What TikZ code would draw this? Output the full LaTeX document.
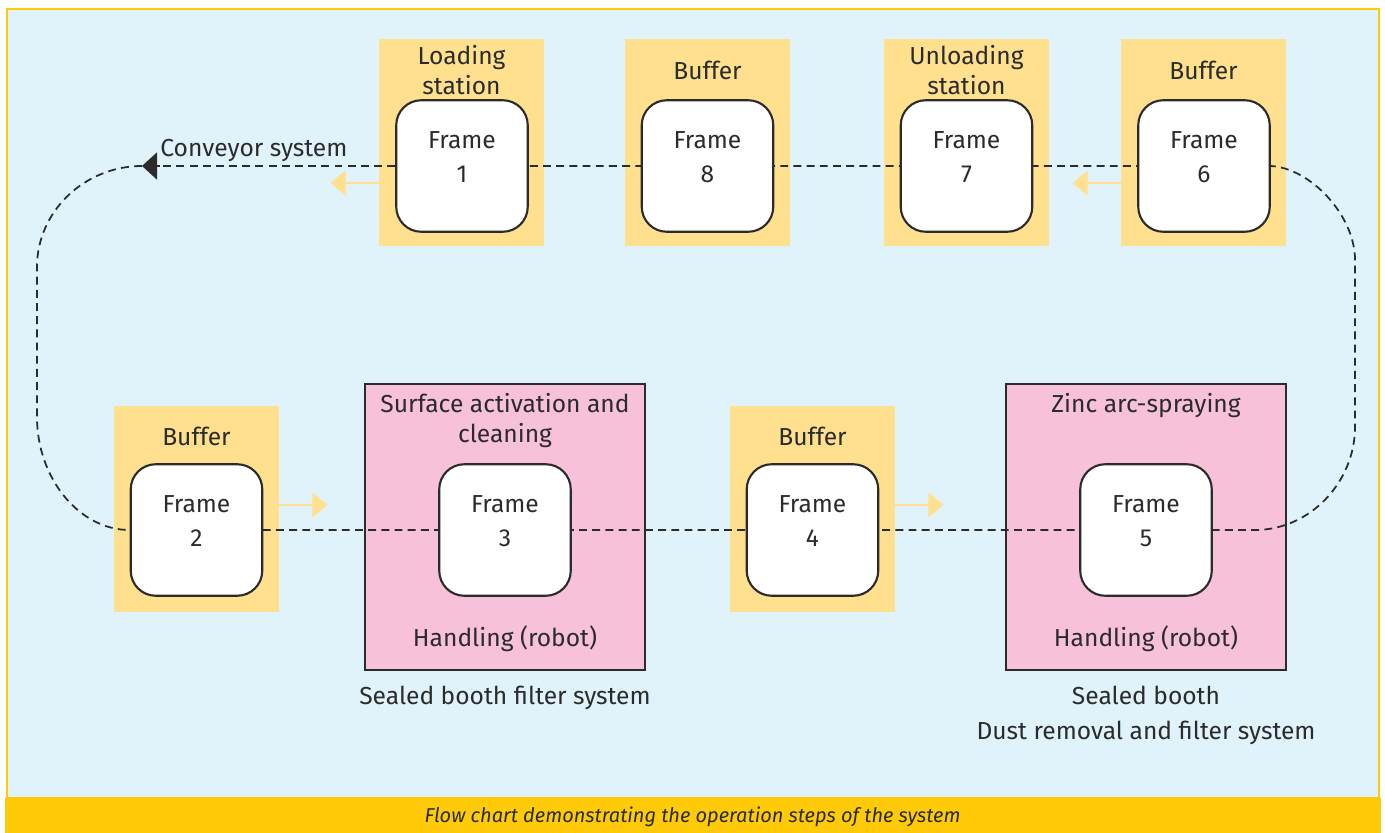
\documentclass[tikz,border=0pt]{standalone}
\usepackage{fontspec}
\setmainfont{Fira Sans}
\usepackage{xcolor}
\usetikzlibrary{
    arrows.meta,
    positioning,
    calc
}
\definecolor{panelblue}{HTML}{E0F3FA}
\definecolor{bandyellow}{HTML}{FFCB08}
\definecolor{bufferyellow}{HTML}{FFE08F}
\definecolor{boothpink}{HTML}{F7C1DA}
\definecolor{inkgray}{HTML}{2B2B2B}
\pgfdeclarelayer{back}
\pgfdeclarelayer{mid}
\pgfsetlayers{back,mid,main}
\tikzset{
    station/.style={fill=bufferyellow, minimum width=3.3cm, minimum height=4.13cm, inner sep=0},
    booth/.style={fill=boothpink, draw=inkgray, line width=0.9pt, minimum width=5.6cm, minimum height=5.72cm, inner sep=0},
    frame/.style={fill=white, draw=inkgray, line width=1.2pt, rounded corners=0.5cm, minimum size=2.63cm, inner sep=0},
    txt/.style={text=inkgray, font=\fontsize{14}{17}\selectfont, align=center, inner sep=0},
    frametxt/.style={txt, font=\fontsize{14}{19.5}\selectfont},
    conveyor/.style={draw=inkgray, line width=1pt, dash pattern=on 4.5pt off 3pt},
    flow/.style={draw=bufferyellow, line width=1.2pt, -{Triangle[length=0.3cm, width=0.5cm]}}
}

\begin{document}
\begin{tikzpicture}
    \useasboundingbox (0,0) rectangle (27.7,-16.66);
    \begin{pgfonlayer}{back}
        \fill[white] (0,0) rectangle (27.7,-16.66);
        \draw[fill=panelblue, draw=bandyellow, line width=1.2pt] (0.14,-0.18) rectangle (27.58,-15.96);
        \fill[bandyellow] (0.1,-15.96) rectangle (27.62,-16.66);
        % top row
        \node[station] (st1) at (9.23,-2.85) {};
        \node[station] (st8) at (14.15,-2.85) {};
        \node[station] (st7) at (19.33,-2.85) {};
        \node[station] (st6) at (24.07,-2.85) {};
        % bottom row
        \node[station] (st2) at (3.93,-10.18) {};
        \node[booth] (b3) at (10.1,-10.54) {};
        \node[station] (st4) at (16.25,-10.18) {};
        \node[booth] (b5) at (22.92,-10.54) {};
    \end{pgfonlayer}

    % frames
    \node[frame] (f1) at (9.24,-3.32) {};
    \node[frame] (f8) at (14.15,-3.32) {};
    \node[frame] (f7) at (19.33,-3.32) {};
    \node[frame] (f6) at (24.08,-3.32) {};
    \node[frame] (f2) at (3.93,-10.6) {};
    \node[frame] (f3) at (10.1,-10.6) {};
    \node[frame] (f4) at (16.25,-10.6) {};
    \node[frame] (f5) at (22.92,-10.6) {};

    \node[frametxt] (f1t) at ([yshift=0.18cm]f1.center) {Frame\\1};
    \node[frametxt] (f8t) at ([yshift=0.18cm]f8.center) {Frame\\8};
    \node[frametxt] (f7t) at ([yshift=0.18cm]f7.center) {Frame\\7};
    \node[frametxt] (f6t) at ([yshift=0.18cm]f6.center) {Frame\\6};
    \node[frametxt] (f2t) at ([yshift=0.18cm]f2.center) {Frame\\2};
    \node[frametxt] (f3t) at ([yshift=0.18cm]f3.center) {Frame\\3};
    \node[frametxt] (f4t) at ([yshift=0.18cm]f4.center) {Frame\\4};
    \node[frametxt] (f5t) at ([yshift=0.18cm]f5.center) {Frame\\5};

    % station titles
    \node[txt] (st1t) at ([yshift=-0.63cm]st1.north) {Loading\\station};
    \node[txt] (st8t) at ([yshift=-0.63cm]st8.north) {Buffer};
    \node[txt] (st7t) at ([yshift=-0.63cm]st7.north) {Unloading\\station};
    \node[txt] (st6t) at ([yshift=-0.63cm]st6.north) {Buffer};
    \node[txt] (st2t) at ([yshift=-0.63cm]st2.north) {Buffer};
    \node[txt] (st4t) at ([yshift=-0.63cm]st4.north) {Buffer};

    % booth texts
    \node[txt, anchor=north] (b3t) at ([yshift=-0.2cm]b3.north) {Surface activation and\\cleaning};
    \node[txt, anchor=north] (b5t) at ([yshift=-0.2cm]b5.north) {Zinc arc-spraying};
    \node[txt] (b3h) at ([yshift=0.64cm]b3.south) {Handling (robot)};
    \node[txt] (b5h) at ([yshift=0.64cm]b5.south) {Handling (robot)};
    \node[txt, anchor=north] (b3s) at ([yshift=-0.3cm]b3.south) {Sealed booth filter system};
    \node[txt, anchor=north, font=\fontsize{14}{20}\selectfont] (b5s) at ([yshift=-0.3cm]b5.south) {Sealed booth\\Dust removal and filter system};

    % conveyor loop
    \coordinate (tip) at (2.84,-3.32);
    \coordinate (tipbase) at (3.2,-3.32);
    \node[txt, above right=0.08cm and 0.36cm of tip] (conv) {Conveyor system};
    \begin{pgfonlayer}{mid}
        \draw[conveyor] (f1.west) -- (tipbase);
        \draw[draw=inkgray, line width=1pt, -{Triangle[length=0.3cm, width=0.54cm]}] (tipbase) -- (tip);
        \draw[conveyor] (tip) .. controls (1.7,-3.32) and (0.74,-4.22) .. (0.74,-5.34) -- (0.74,-8.34)
            .. controls (0.74,-9.56) and (1.58,-10.6) .. (f2.west) -- (f5.east) -- (25.1,-10.6)
            .. controls (26.2,-10.6) and (27.1,-9.64) .. (27.1,-8.54) -- (27.1,-5.2)
            .. controls (27.1,-4.3) and (26.2,-3.36) .. (f6.east) -- (f1.east);
    \end{pgfonlayer}

    % moving direction
    \draw[flow] ([yshift=-0.81cm]st1.west) -- ++(-0.96,0);
    \draw[flow] ([yshift=-0.81cm]st6.west) -- ++(-0.96,0);
    \draw[flow] ([yshift=0.08cm]st2.east) -- ++(0.96,0);
    \draw[flow] ([yshift=0.08cm]st4.east) -- ++(0.96,0);

    % caption
    \node[text=inkgray, font=\fontsize{11.4}{13}\selectfont\itshape] (cap) at (13.85,-16.34) {Flow chart demonstrating the operation steps of the system};
\end{tikzpicture}
\end{document}
